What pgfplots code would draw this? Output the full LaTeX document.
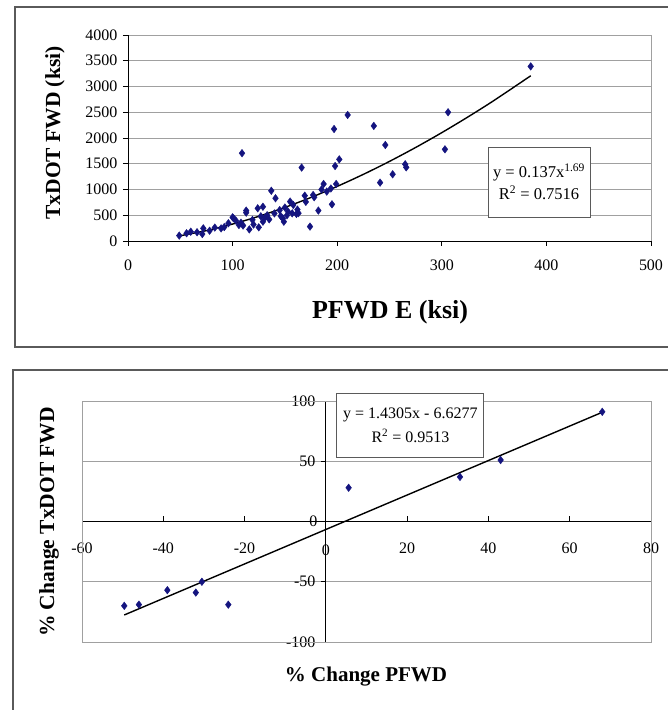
\documentclass[border=0pt]{standalone}
\usepackage{pgfplots}
\pgfplotsset{compat=1.18}
\usepackage{fontspec}
\setmainfont{Liberation Serif}
\definecolor{navy}{HTML}{14147F}
\definecolor{framegray}{HTML}{5A5A5A}
\definecolor{gridgray}{HTML}{A0A0A0}
\begin{document}
\begin{tikzpicture}[x=1pt,y=1pt]
\useasboundingbox (0,0) rectangle (668,710);
\draw[framegray, line width=1.6pt] (15,363) rectangle (674,703);
\draw[framegray, line width=1.6pt] (13,-6) rectangle (674,340);

% ---------------- top chart ----------------
\begin{axis}[
  at={(128pt,469pt)}, anchor=south west,
  scale only axis, width=523pt, height=206pt,
  xmin=0, xmax=500, ymin=0, ymax=4000,
  xtick={0,100,...,500}, ytick={0,500,...,4000},
  axis lines*=left, axis line style={black,-, line width=0.9pt},
  ymajorgrids, major grid style={gridgray, line width=0.9pt},
  tick align=outside, major tick length=5pt,
  tick style={black, line width=0.8pt},
  ticklabel style={font=\fontsize{16}{16}\selectfont},
  /pgf/number format/assume math mode=true,
  /pgf/number format/set thousands separator={},
  xticklabel style={yshift=-10pt},
  yticklabel style={xshift=-2pt},
  clip=false,
]
\draw[gridgray, line width=0.9pt] (rel axis cs:1,0) -- (rel axis cs:1,1);
\addplot[only marks, mark=diamond*, mark size=3.8pt, navy] coordinates {
(49,105) (60,180) (71,135) (72,245) (83,260) (89,245) (96,345) (101,440)
(106,310) (108,355) (109,1705) (113,550) (116,225) (124,635) (129,665)
(125,265) (129,375) (131,455) (137,975) (141,830) (140,535) (146,485)
(149,375) (153,570) (155,765) (157,537) (161,525) (163,540) (166,1425)
(169,880) (174,280) (177,893) (182,590) (187,1107) (194,1020) (195,712)
(197,2175) (198,1456) (199,1107) (202,1585) (210,2447) (235,2235)
(241,1133) (246,1864) (253,1295) (265,1490) (266,1430) (303,1780)
(306,2500) (385,3390)
(56,150) (66,170) (78,200) (92,270) (103,400) (110,300) (119,410)
(120,320) (127,480) (133,500) (135,420) (145,600) (148,440) (150,650)
(152,500) (158,700) (162,610) (170,760) (178,850) (185,1000) (190,960)
(113,590) (100,460)
};
\addplot[black, line width=1.4pt, smooth] coordinates {
(50,101.8) (75,202.1) (100,328.6) (125,479.2) (150,652.1) (175,846.2)
(200,1060.4) (225,1294) (250,1546) (275,1816) (300,2104) (325,2409)
(350,2730) (385,3208)
};
\node[draw=framegray, fill=white, line width=0.9pt, minimum width=102pt,
      minimum height=70pt, align=center, inner sep=2pt,
      font=\fontsize{16.5}{22}\selectfont]
  at (axis cs:393,1146) {y = 0.137x\textsuperscript{1.69}\\R\textsuperscript{2} = 0.7516};
\end{axis}
\node[rotate=90, font=\bfseries\fontsize{21.5}{22}\selectfont] at (55,577) {TxDOT FWD (ksi)};
\node[font=\bfseries\fontsize{26}{26}\selectfont] at (390,398) {PFWD E (ksi)};

% ---------------- bottom chart ----------------
\begin{axis}[
  at={(82pt,68pt)}, anchor=south west,
  scale only axis, width=569pt, height=241pt,
  xmin=-60, xmax=80, ymin=-100, ymax=100,
  xtick={-60,-40,...,80}, ytick={-100,-50,...,100},
  axis lines=middle, axis line style={black,-, line width=0.9pt},
  ymajorgrids, major grid style={gridgray, line width=0.9pt},
  major tick length=5pt,
  xtick align=inside, ytick align=outside,
  tick style={black, line width=0.8pt},
  ticklabel style={font=\fontsize{16}{16}\selectfont},
  /pgf/number format/assume math mode=true,
  xticklabel style={yshift=-18pt},
  yticklabel style={xshift=-2pt},
  clip=false,
]
\draw[gridgray, line width=0.9pt] (rel axis cs:0,0) rectangle (rel axis cs:1,1);
\addplot[only marks, mark=diamond*, mark size=3.8pt, navy] coordinates {
(68,91) (43,51) (33,37) (5.6,28) (-30.5,-50) (-32,-59) (-39,-57)
(-46,-69) (-49.6,-70) (-24,-69)
};
\addplot[black, line width=1.4pt] coordinates {(-49.6,-77.58) (68,90.65)};
\node[font=\fontsize{16}{16}\selectfont, anchor=north, inner sep=0pt] at (axis cs:0,0) [yshift=-23pt] {0};
\node[font=\fontsize{16}{16}\selectfont, anchor=east] at (axis cs:0,0) [xshift=-5pt] {0};
\node[draw=framegray, fill=white, line width=0.9pt, minimum width=147pt,
      minimum height=64pt, align=center, inner sep=2pt,
      font=\fontsize{16}{24}\selectfont]
  at (axis cs:20.8,79.7) {y = 1.4305x - 6.6277\\R\textsuperscript{2} = 0.9513};
\end{axis}
\node[rotate=90, font=\bfseries\fontsize{21.5}{22}\selectfont] at (49,188) {\% Change TxDOT FWD};
\node[font=\bfseries\fontsize{21}{22}\selectfont] at (366,33) {\% Change PFWD};
\end{tikzpicture}
\end{document}
